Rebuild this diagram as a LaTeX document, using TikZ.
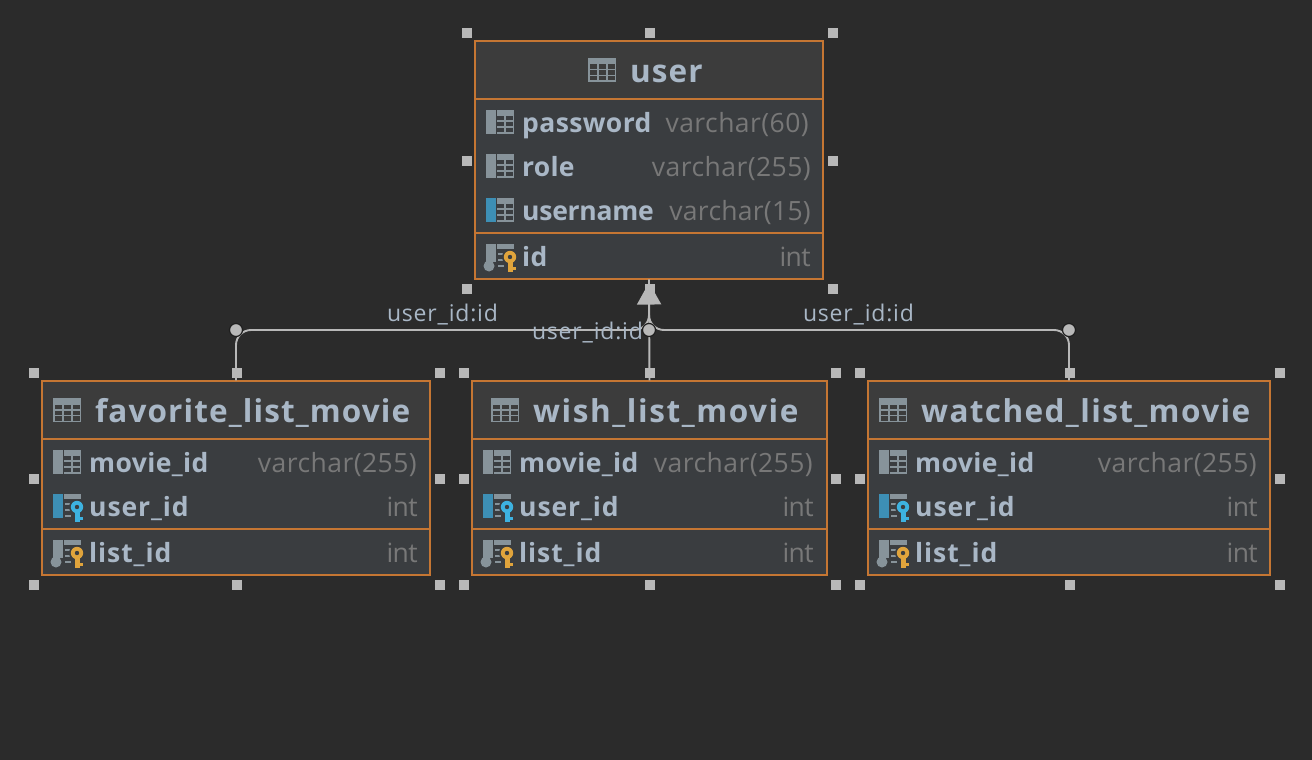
\documentclass[tikz,border=0pt]{standalone}
\usepackage{fontspec}
\setmainfont{Open Sans}
\usetikzlibrary{arrows.meta, calc, positioning}
\newfontfamily\titlefont[LetterSpace=3.5]{Open Sans}
\newfontfamily\namefont[LetterSpace=1.5]{Open Sans}
\newfontfamily\typefont[LetterSpace=1.7]{Open Sans}
\newfontfamily\labelfont[LetterSpace=3.5]{Open Sans}
\newcommand{\spaced}[2]{{\addfontfeature{LetterSpace=#1}#2}}
\definecolor{canvasbg}{HTML}{2B2B2B}
\definecolor{headbg}{HTML}{3C3C3C}
\definecolor{bodybg}{HTML}{3A3D40}
\definecolor{tableedge}{HTML}{C57633}
\definecolor{nametext}{HTML}{A9B7C6}
\definecolor{typetext}{HTML}{787878}
\definecolor{icongray}{HTML}{87939A}
\definecolor{iconblue}{HTML}{3D8FB5}
\definecolor{keygold}{HTML}{E0A43C}
\definecolor{keyblue}{HTML}{3DB2E0}
\definecolor{linkgray}{HTML}{B8B8B8}
\tikzset{
    tablebox/.style={draw=tableedge, line width=1.05pt, fill=bodybg, inner sep=0pt},
    headbox/.style={fill=headbg, inner sep=0pt},
    divider/.style={draw=tableedge, line width=1.8pt},
    handle/.style={fill=linkgray, minimum size=10pt, inner sep=0pt},
    tabletitle/.style={anchor=base west, inner sep=0pt, text=nametext, font=\titlefont\fontsize{31.5}{33}\selectfont\bfseries},
    colname/.style={anchor=base west, inner sep=0pt, text=nametext, font=\namefont\fontsize{26.5}{28}\selectfont\bfseries},
    coltype/.style={anchor=base east, inner sep=0pt, text=typetext, font=\typefont\fontsize{26.5}{28}\selectfont},
    linklabel/.style={inner sep=0pt, text=nametext, font=\labelfont\fontsize{23}{25}\selectfont},
    linkline/.style={draw=linkgray, line width=1.9pt, rounded corners=15pt},
    linkdot/.style={circle, fill=linkgray, draw=canvasbg!70!black, line width=1.2pt, minimum size=13pt, inner sep=0pt}
}
% small icons, x y = top left corner
\newcommand{\tableicon}[2]{
    \begin{scope}[shift={(#1,#2)}]
        \fill[icongray] (0,0) rectangle (28,24);
        \foreach \gx in {1.5,10.5,19.5} \foreach \gy in {6.5,12.5,18} \fill[headbg] (\gx,\gy) rectangle (\gx+7.5,\gy+4.5);
    \end{scope}
}
\newcommand{\colicon}[3]{
    \begin{scope}[shift={(#1,#2)}]
        \fill[#3] (0,0) rectangle (10,24);
        \fill[icongray] (11,0) rectangle (28,24);
        \foreach \gx in {11,19.5} \foreach \gy in {5.5,11.5,17.5} \fill[bodybg] (\gx,\gy) rectangle (\gx+7,\gy+4.5);
    \end{scope}
}
\newcommand{\keyicon}[4]{
    \begin{scope}[shift={(#1,#2)}]
        \fill[#3] (0,0) rectangle (10,#4);
        \fill[icongray] (11,0) rectangle (28,5);
        \foreach \dy in {9,15,21} \fill[icongray] (12,\dy) rectangle (18,\dy+1.6);
    \end{scope}
}
\newcommand{\keyshape}[3]{
    \begin{scope}[shift={(#1,#2)}]
        \fill[bodybg] (24,13) circle (8);
        \fill[#3] (24,13) circle (6.2);
        \fill[#3] (22,17) rectangle (27,28);
        \fill[#3] (27,22.5) rectangle (30,26);
        \fill[bodybg] (24,13) circle (2.2);
    \end{scope}
}
\begin{document}
\begin{tikzpicture}[x=1pt, y=-1pt]
    \useasboundingbox[fill=canvasbg] (0,0) rectangle (1312,760);

    % tables
    \node[tablebox, minimum width=348pt, minimum height=238pt] (usertable) at (649,160) {};
    \node[tablebox, minimum width=388pt, minimum height=194pt] (favtable) at (236,478) {};
    \node[tablebox, minimum width=355pt, minimum height=194pt] (wishtable) at (649.5,478) {};
    \node[tablebox, minimum width=402pt, minimum height=194pt] (watchedtable) at (1069,478) {};

    % table heads
    \node[headbox, minimum width=346pt, minimum height=57pt] (userhead) at (649,70.5) {};
    \node[headbox, minimum width=386pt, minimum height=57pt] (favhead) at (236,410.5) {};
    \node[headbox, minimum width=353pt, minimum height=57pt] (wishhead) at (649.5,410.5) {};
    \node[headbox, minimum width=400pt, minimum height=57pt] (watchedhead) at (1069,410.5) {};

    \draw[divider] (usertable.west |- 0,99) -- (usertable.east |- 0,99);
    \draw[divider] (usertable.west |- 0,233) -- (usertable.east |- 0,233);
    \foreach \tname in {favtable, wishtable, watchedtable} {
        \draw[divider] (\tname.west |- 0,439) -- (\tname.east |- 0,439);
        \draw[divider] (\tname.west |- 0,529) -- (\tname.east |- 0,529);
    }

    % user
    \tableicon{588}{58}
    \node[tabletitle] (usertitle) at (630,82) {user};
    \colicon{486}{110}{icongray}
    \colicon{486}{154}{icongray}
    \colicon{486}{198}{iconblue}
    \keyicon{486}{244}{icongray}{18}
    \fill[icongray] (489,266) circle (5.5);
    \keyshape{486}{244}{keygold}
    \node[colname] (userpass) at (522,132) {password};
    \node[colname] (userrole) at (522,176) {\spaced{1}{role}};
    \node[colname] (username) at (522,220) {\spaced{-1}{username}};
    \node[colname] (userid) at (522,266) {id};
    \node[coltype] (userpasst) at (809,132) {varchar(60)};
    \node[coltype] (userrolet) at (811,176) {varchar(255)};
    \node[coltype] (usernamet) at (811,220) {\spaced{1}{varchar(15)}};
    \node[coltype] (useridt) at (811,266) {\spaced{-2}{int}};

    % the three list tables
    \foreach \tname/\ttitle/\ts/\ix/\tx/\nx/\rx in {fav/favorite\_list\_movie/3.5/53/95/89/417, wish/wish\_list\_movie/5/491/533/519/813, watched/watched\_list\_movie/4.4/879/921/915/1257} {
        \node[tabletitle] (\tname title) at (\tx,422) {\spaced{\ts}{\ttitle}};
        \node[colname] (\tname movie) at (\nx,472) {movie\_id};
        \node[colname] (\tname user) at (\nx,516) {\spaced{3.5}{user\_id}};
        \node[colname] (\tname list) at (\nx,562) {\spaced{3.5}{list\_id}};
        \node[coltype] (\tname moviet) at (\rx,472) {varchar(255)};
        \node[coltype] (\tname usert) at (\rx+1,516) {\spaced{-2}{int}};
        \node[coltype] (\tname listt) at (\rx+1,562) {\spaced{-2}{int}};
    }
    \foreach \hx/\ix in {53/53, 491/483, 879/879} {
        \tableicon{\hx}{398}
        \colicon{\ix}{450}{icongray}
        \keyicon{\ix}{494}{iconblue}{24}
        \keyshape{\ix}{494}{keyblue}
        \keyicon{\ix}{540}{icongray}{18}
        \fill[icongray] (\ix+3,562) circle (5.5);
        \keyshape{\ix}{540}{keygold}
    }

    % links
    \coordinate (hub) at (usertable.south |- 0,330);
    \draw[linkline] (favtable.north) |- (hub) -- (usertable.south);
    \draw[linkline] (watchedtable.north) |- (hub) -- (usertable.south);
    \draw[linkline, -{Triangle[length=22pt, width=24pt]}, linkgray, shorten >=3pt] (wishtable.north) -- (usertable.south);
    \node[linkdot] (favdot) at (236,330) {};
    \node[linkdot] (wishdot) at (hub) {};
    \node[linkdot] (watcheddot) at (1069,330) {};
    \node[linklabel] (favlabel) at (442.5,314.5) {user\_id:id};
    \node[linklabel] (wishlabel) at (587.5,332.5) {user\_id:id};
    \node[linklabel] (watchedlabel) at (858.5,314.5) {user\_id:id};

    % selection handles
    \foreach \tname/\xa/\xb/\xc/\ya/\yb/\yc in {user/467/650/833/33/161/289, fav/34/237/440/373/479/585, wish/464/650/836/373/479/585, watched/860/1070/1280/373/479/585} {
        \foreach \hx/\hy/\hn in {\xa/\ya/nw, \xb/\ya/n, \xc/\ya/ne, \xa/\yb/w, \xc/\yb/e, \xa/\yc/sw, \xb/\yc/s, \xc/\yc/se}
            \node[handle] (\tname-\hn) at (\hx,\hy) {};
    }
\end{tikzpicture}
\end{document}
